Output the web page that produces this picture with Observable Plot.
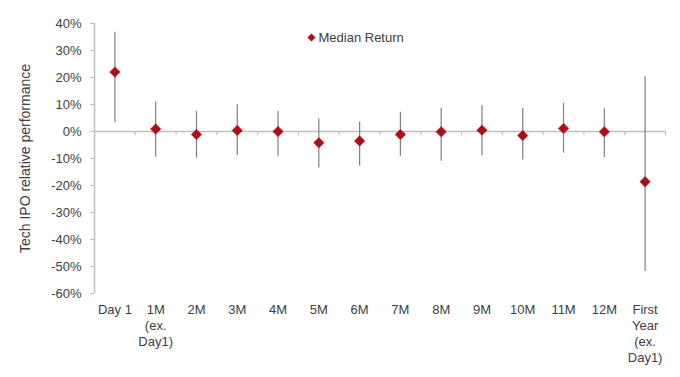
<!DOCTYPE html>
<html>
<head>
<meta charset="utf-8">
<script src="https://cdn.jsdelivr.net/npm/d3@7"></script>
<script src="https://cdn.jsdelivr.net/npm/@observablehq/plot@0.6"></script>
<style>
  html, body { margin: 0; padding: 0; background: #fff; }
  #chart { width: 680px; height: 377px; }
</style>
</head>
<body>
<div id="chart"></div>
<script>
const labels = ["Day 1", "1M\n(ex.\nDay1)", "2M", "3M", "4M", "5M", "6M", "7M", "8M", "9M", "10M", "11M", "12M", "First\nYear\n(ex.\nDay1)"];
const median = [22.0, 0.9, -1.1, 0.4, 0.0, -4.2, -3.5, -1.1, -0.1, 0.5, -1.5, 1.1, -0.1, -18.6];
const high   = [36.8, 10.9, 7.4, 9.9, 7.4, 4.6, 3.5, 7.1, 8.6, 9.5, 8.5, 10.4, 8.4, 20.3];
const low    = [3.2, -9.5, -9.9, -8.9, -9.2, -13.5, -12.9, -9.2, -11.0, -9.0, -10.6, -8.0, -9.6, -51.8];
const yTicks = [40, 30, 20, 10, 0, -10, -20, -30, -40, -50, -60];
const seriesName = "Median Return";

const data = labels.map((l, i) => ({i, label: l, median: median[i], high: high[i], low: low[i]}));
const boundaries = d3.range(labels.length).map(i => i + 0.5);

const red = "#AE0F17";
const grid = "#BFBFBF";
const textColor = "#404040";

const chart = Plot.plot({
  width: 680,
  height: 377,
  marginLeft: 94,
  marginRight: 15,
  marginTop: 23,
  marginBottom: 84,
  style: {fontFamily: "'Liberation Sans', Arial, sans-serif", fontSize: "13px", color: textColor, background: "#fff"},
  x: {domain: [-0.5, labels.length - 0.5]},
  y: {domain: [-60, 40]},
  marks: [
    Plot.ruleY([0], {stroke: grid, strokeWidth: 1.5}),
    Plot.ruleX(boundaries, {x: d => d, y1: 0, y2: -1.5, stroke: grid, strokeWidth: 1.2}),
    Plot.ruleX([-0.5], {stroke: grid, strokeWidth: 1.5}),
    Plot.axisY({
      ticks: yTicks, tickFormat: d => d + "%", tickSize: 4, tickPadding: 9,
      stroke: grid, fill: textColor, fontSize: 13, label: null
    }),
    Plot.text(["Tech IPO relative performance"], {
      frameAnchor: "left", dx: -69, rotate: -90, text: d => d,
      fill: textColor, fontSize: 14, lineAnchor: "middle", textAnchor: "middle"
    }),
    Plot.axisX({
      ticks: d3.range(labels.length), tickFormat: i => labels[i],
      tickSize: 0, tickPadding: 9, lineHeight: 1.23, fill: textColor, fontSize: 13, label: null
    }),
    Plot.ruleX(data, {x: "i", y1: "low", y2: "high", stroke: "#7F7F7F", strokeWidth: 1.2}),
    Plot.dot(data, {x: "i", y: "median", symbol: "diamond2", fill: red, stroke: red, strokeWidth: 0.5, r: 4.7}),
    Plot.dot([seriesName], {frameAnchor: "top-left", dx: 217, dy: 14, symbol: "diamond2", fill: red, stroke: red, strokeWidth: 0.5, r: 3.4}),
    Plot.text([seriesName], {frameAnchor: "top-left", dx: 224, dy: 14, text: d => d, textAnchor: "start", lineAnchor: "middle", fill: textColor, fontSize: 13})
  ]
});
document.getElementById("chart").appendChild(chart);
</script>
</body>
</html>
